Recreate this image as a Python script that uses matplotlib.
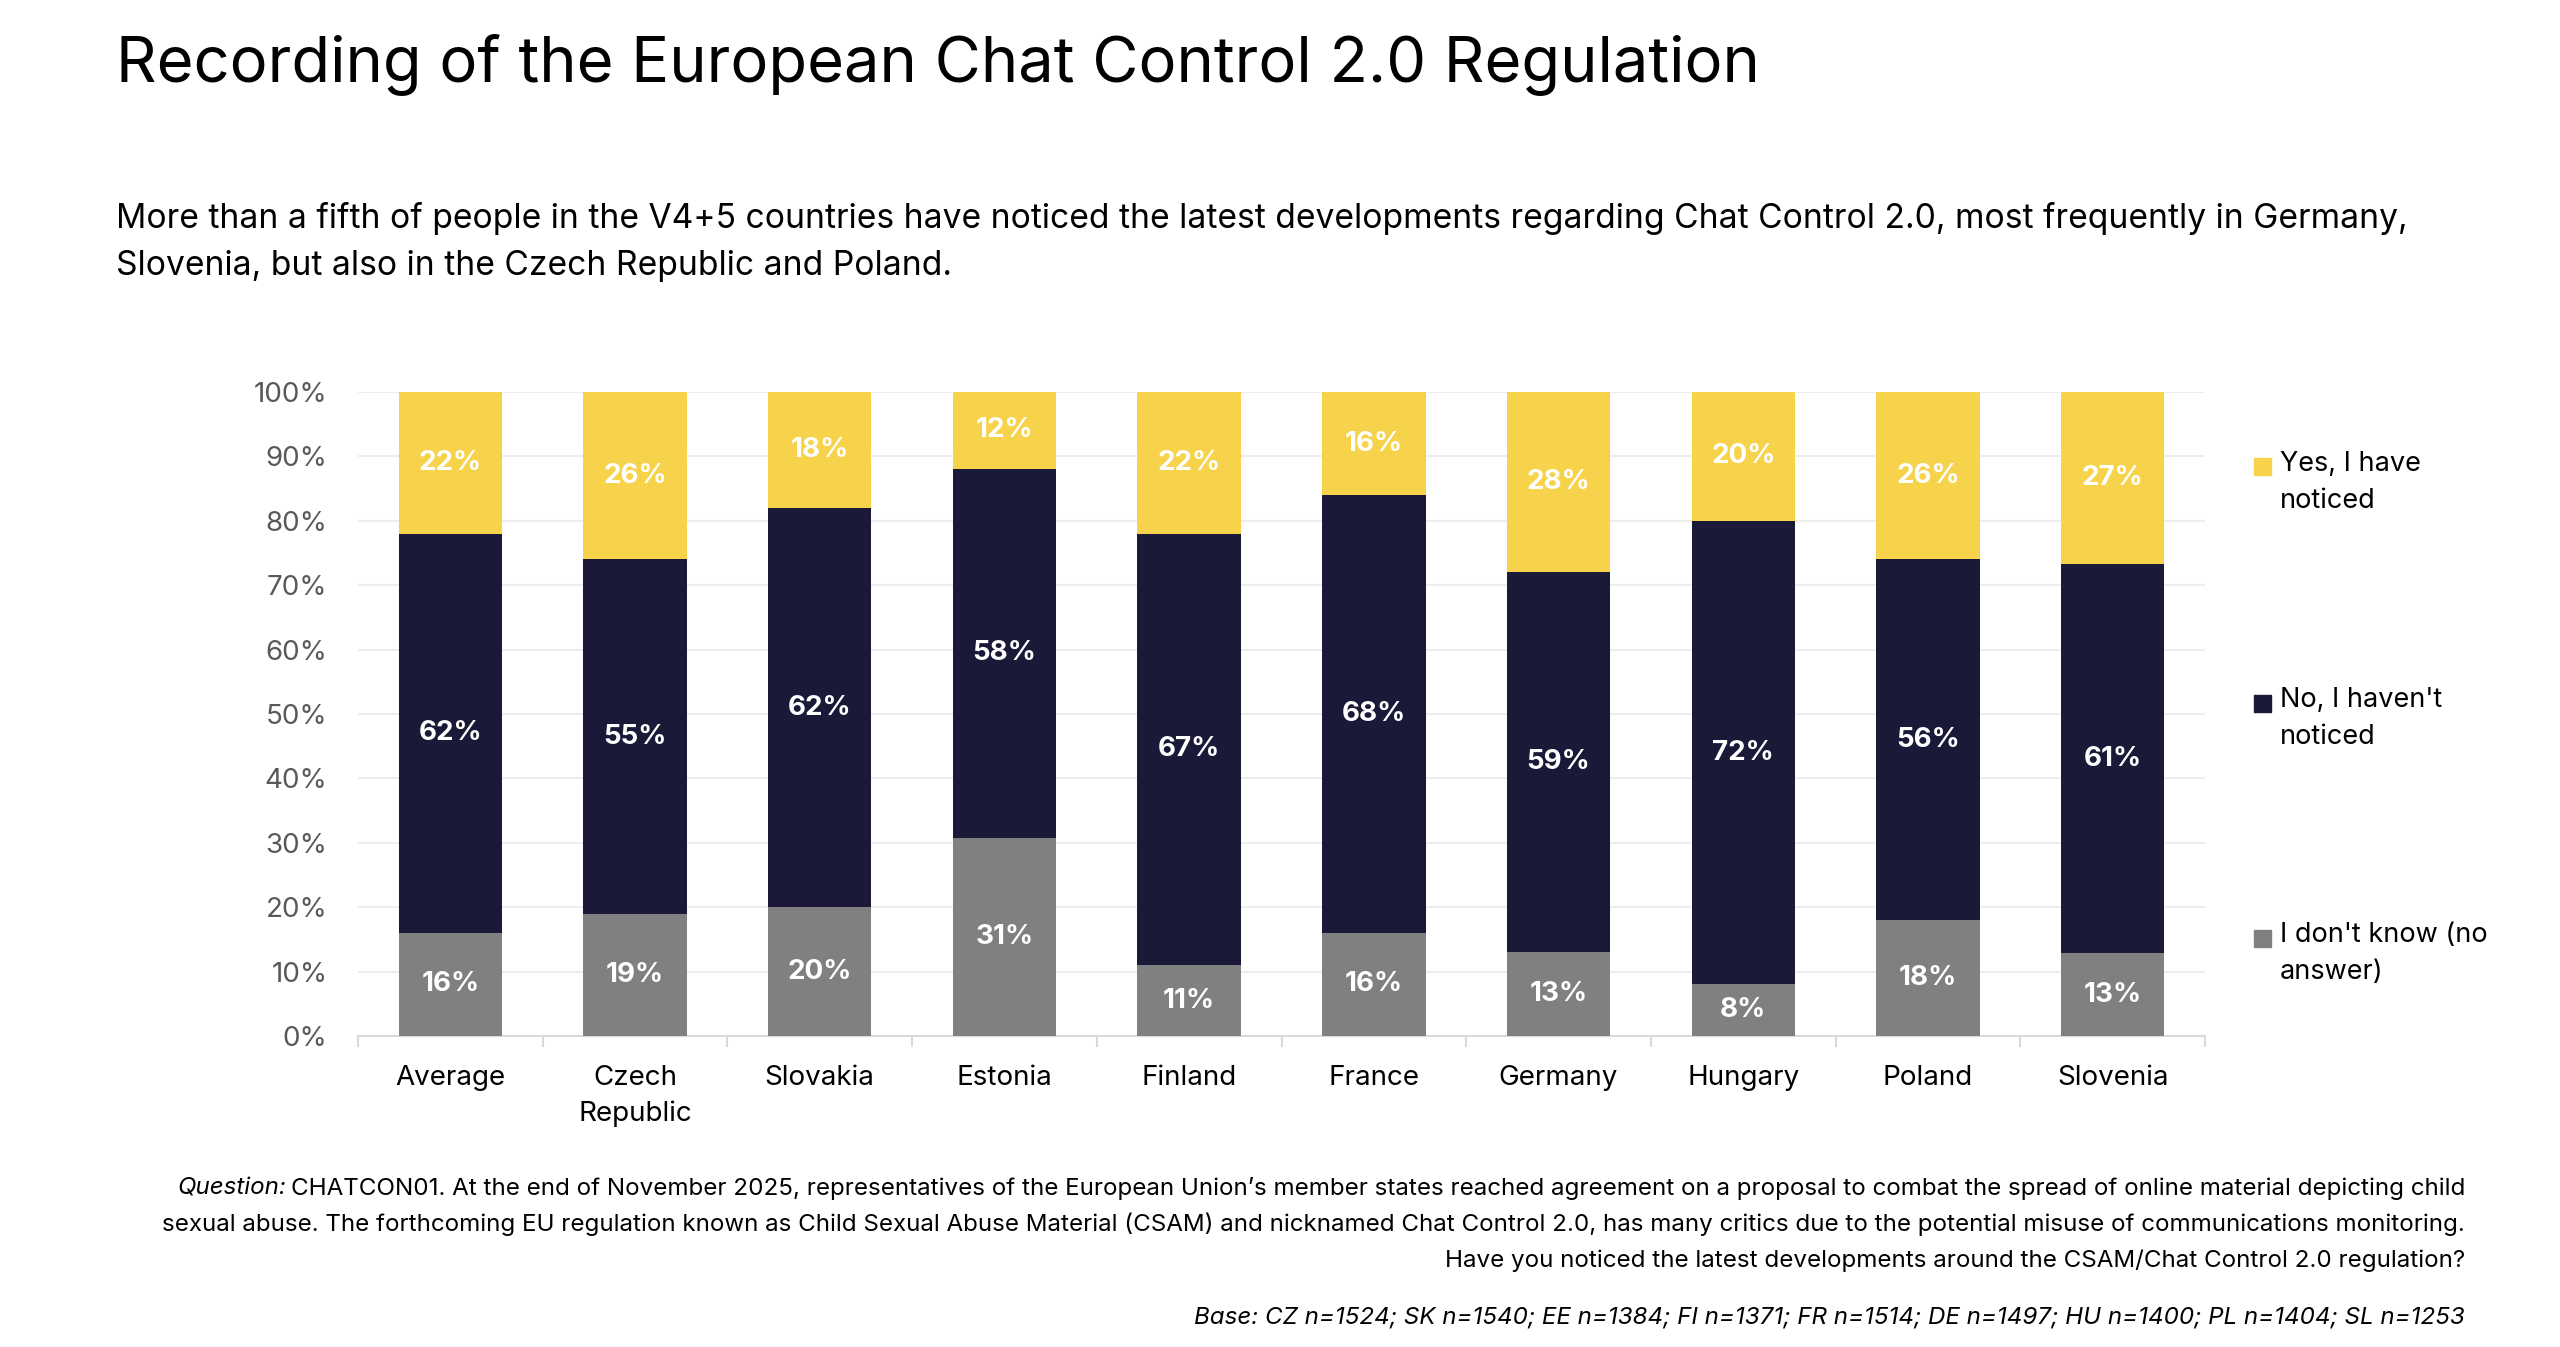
import matplotlib
matplotlib.use("Agg")
import matplotlib.pyplot as plt
import numpy as np
from matplotlib.patches import Rectangle

# data (%)
countries = ["Average", "Czech\nRepublic", "Slovakia", "Estonia", "Finland",
             "France", "Germany", "Hungary", "Poland", "Slovenia"]
dont_know = [16, 19, 20, 31, 11, 16, 13, 8, 18, 13]
no_noticed = [62, 55, 62, 58, 67, 68, 59, 72, 56, 61]
yes_noticed = [22, 26, 18, 12, 22, 16, 28, 20, 26, 27]
series_names = ["Yes, I have\nnoticed", "No, I haven't\nnoticed", "I don't know (no\nanswer)"]
yticks = [0, 10, 20, 30, 40, 50, 60, 70, 80, 90, 100]

title = "Recording of the European Chat Control 2.0 Regulation"
subtitle = ("More than a fifth of people in the V4+5 countries have noticed the latest developments regarding Chat Control 2.0, most frequently in Germany,\n"
            "Slovenia, but also in the Czech Republic and Poland.")
question_lines = [
    "CHATCON01. At the end of November 2025, representatives of the European Union\u2019s member states reached agreement on a proposal to combat the spread of online material depicting child",
    "sexual abuse. The forthcoming EU regulation known as Child Sexual Abuse Material (CSAM) and nicknamed Chat Control 2.0, has many critics due to the potential misuse of communications monitoring.",
    "Have you noticed the latest developments around the CSAM/Chat Control 2.0 regulation?",
]
base_note = "Base: CZ n=1524; SK n=1540; EE n=1384; FI n=1371; FR n=1514; DE n=1497; HU n=1400; PL n=1404; SL n=1253"

YELLOW = "#F7D24B"
NAVY = "#1A1A38"
GREY = "#808080"

plt.rcParams["font.family"] = ["Inter", "DejaVu Sans"]

W, H = 2560, 1347
fig = plt.figure(figsize=(W / 100, H / 100), dpi=100)

# normalise to 100% stacked
dk = np.array(dont_know, float)
no = np.array(no_noticed, float)
ys = np.array(yes_noticed, float)
tot = dk + no + ys
dk_n, no_n, ys_n = dk / tot * 100, no / tot * 100, ys / tot * 100

ax = fig.add_axes([358 / W, 1 - 1036 / H, (2205 - 358) / W, (1036 - 392) / H])
x = np.arange(len(countries))
bw = 0.56
ax.bar(x, dk_n, bw, color=GREY, zorder=3)
ax.bar(x, no_n, bw, bottom=dk_n, color=NAVY, zorder=3)
ax.bar(x, ys_n, bw, bottom=dk_n + no_n, color=YELLOW, zorder=3)

for i in range(len(x)):
    for bottom, h, lab in [(0, dk_n[i], dont_know[i]),
                           (dk_n[i], no_n[i], no_noticed[i]),
                           (dk_n[i] + no_n[i], ys_n[i], yes_noticed[i])]:
        ax.text(x[i], bottom + h / 2, f"{lab}%", ha="center", va="center",
                color="white", fontsize=20, fontweight="bold", zorder=4)

ax.set_xlim(-0.5, len(x) - 0.5)
ax.set_ylim(0, 100)
ax.set_yticks(yticks)
ax.set_yticklabels([f"{t}%" for t in yticks], fontsize=20, color="#595959")
ax.set_xticks(x)
ax.set_xticklabels(countries, fontsize=20, color="black", linespacing=1.45)
ax.set_xticks(np.arange(-0.5, len(x), 1), minor=True)
ax.tick_params(axis="y", length=0, pad=22)
ax.tick_params(axis="x", which="major", length=0, pad=21)
ax.tick_params(axis="x", which="minor", length=8, color="#D9D9D9", width=1.5)
ax.grid(axis="y", color="#EDEDED", linewidth=1.5, zorder=0)
for s in ["top", "right", "left"]:
    ax.spines[s].set_visible(False)
ax.spines["bottom"].set_color("#D9D9D9")
ax.spines["bottom"].set_linewidth(1.5)

# titles
fig.text(116 / W, 1 - 64 / H, title, fontsize=45.5, va="center", ha="left")
fig.text(116 / W, 1 - 242 / H, subtitle, fontsize=24.2, va="center", ha="left",
         linespacing=1.6)

# legend
leg_y = [467, 703, 938]
for yy, name, col in zip(leg_y, series_names, [YELLOW, NAVY, GREY]):
    sq = 17
    fig.patches.append(Rectangle(((2262 - sq / 2) / W, 1 - (yy + sq / 2) / H), sq / W, sq / H,
                                 transform=fig.transFigure, color=col))
    fig.text(2280 / W, 1 - (yy - 16) / H, name, fontsize=19.5, va="top", ha="left",
             linespacing=1.55)

# footnote
fn_family = ["Inter", "DejaVu Sans"]
fs = 17.4
right = 2465 / W
line_y = [1188, 1224, 1261]
t0 = fig.text(right, 1 - line_y[0] / H, question_lines[0], fontsize=fs, ha="right",
              va="center", family=fn_family)
for ln, yy in zip(question_lines[1:], line_y[1:]):
    fig.text(right, 1 - yy / H, ln, fontsize=fs, ha="right", va="center", family=fn_family)
r = fig.canvas.get_renderer()
bb = t0.get_window_extent(renderer=r)
fig.text(bb.x0 / W - 4 / W, 1 - line_y[0] / H, "Question:", fontsize=fs, ha="right",
         va="center", style="italic", family=fn_family)
fig.text(right, 1 - 1318 / H, base_note, fontsize=fs, ha="right", va="center",
         style="italic", family=fn_family)

fig.savefig("out.png", dpi=100, facecolor="white")
